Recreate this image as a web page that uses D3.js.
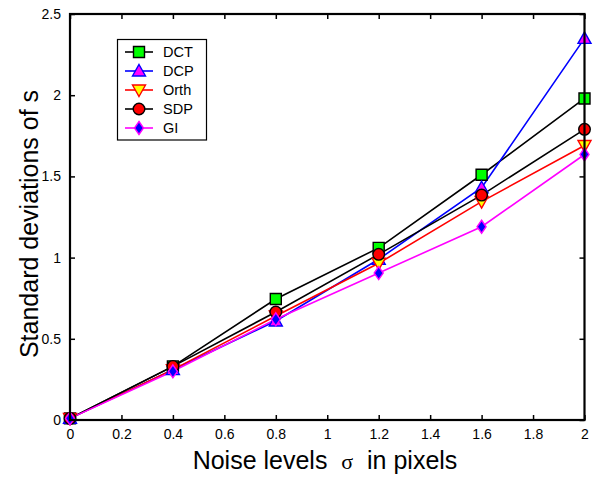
<!DOCTYPE html>
<html>
<head>
<meta charset="utf-8">
<script src="https://cdn.jsdelivr.net/npm/d3@7"></script>
<style>
  body { margin: 0; background: #fff; }
  svg { display: block; font-family: "Liberation Sans", Arial, Helvetica, sans-serif; }
  .pre { white-space: pre; }
</style>
</head>
<body>
<svg id="chart" width="597" height="480"></svg>
<script>
// Noise levels (sigma, pixels)
const noise = [0, 0.4, 0.8, 1.2, 1.6, 2.0];

// Standard deviation of s for each method
const dct  = [0.01, 0.33, 0.745, 1.06, 1.51, 1.98];
const dcp  = [0.01, 0.31, 0.61, 0.99, 1.43, 2.35];
const orth = [0.01, 0.31, 0.64, 0.965, 1.345, 1.69];
const sdp  = [0.01, 0.33, 0.665, 1.02, 1.385, 1.79];
const gi   = [0.01, 0.30, 0.62, 0.905, 1.19, 1.635];

const xTicks = [0, 0.2, 0.4, 0.6, 0.8, 1, 1.2, 1.4, 1.6, 1.8, 2];
const yTicks = [0, 0.5, 1, 1.5, 2, 2.5];

const series = [
  { name: "DCT",  values: dct,  line: "#000000", fill: "#00ff00", stroke: "#000000", shape: "square" },
  { name: "DCP",  values: dcp,  line: "#0000ff", fill: "#ff00ff", stroke: "#0000ff", shape: "triUp" },
  { name: "Orth", values: orth, line: "#ff0000", fill: "#ffff00", stroke: "#ff0000", shape: "triDown" },
  { name: "SDP",  values: sdp,  line: "#000000", fill: "#ff0000", stroke: "#000000", shape: "circle" },
  { name: "GI",   values: gi,   line: "#ff00ff", fill: "#0000ff", stroke: "#ff00ff", shape: "diamond" }
];

const svg = d3.select("#chart");
const mLeft = 70, mRight = 584.5, mTop = 14, mBottom = 420;

const x = d3.scaleLinear().domain([0, 2]).range([mLeft, mRight]);
const y = d3.scaleLinear().domain([0, 2.5]).range([mBottom, mTop]);

// Marker path generators centred on the origin
function markerPath(shape) {
  switch (shape) {
    case "square":  return "M-5.5,-5.5H5.5V5.5H-5.5Z";
    case "triUp":   return "M0,-6.5L6.5,5L-6.5,5Z";
    case "triDown": return "M0,6.5L6.5,-5L-6.5,-5Z";
    case "circle":  return d3.symbol(d3.symbolCircle, 105)();
    case "diamond": return "M0,-6.5L4.5,0L0,6.5L-4.5,0Z";
  }
}

// Axes: ticks drawn inward on all four sides
const tickLen = 5;
const axisB = d3.axisBottom(x).tickValues(xTicks).tickSizeInner(-tickLen).tickSizeOuter(0)
  .tickPadding(9).tickFormat(d3.format("~g"));
const axisT = d3.axisTop(x).tickValues(xTicks).tickSizeInner(-tickLen).tickSizeOuter(0).tickFormat("");
const axisL = d3.axisLeft(y).tickValues(yTicks).tickSizeInner(-tickLen).tickSizeOuter(0)
  .tickPadding(9).tickFormat(d3.format("~g"));
const axisR = d3.axisRight(y).tickValues(yTicks).tickSizeInner(-tickLen).tickSizeOuter(0).tickFormat("");

function styleAxis(g) {
  g.select(".domain").remove();
  g.selectAll(".tick line").attr("stroke", "#000").attr("stroke-width", 1.5);
  g.selectAll(".tick text").attr("fill", "#000").attr("font-size", 14)
    .attr("font-family", "'Liberation Sans', Arial, sans-serif");
}

svg.append("g").attr("transform", `translate(0,${mBottom})`).call(axisB).call(styleAxis);
svg.append("g").attr("transform", `translate(0,${mTop})`).call(axisT).call(styleAxis);
svg.append("g").attr("transform", `translate(${mLeft},0)`).call(axisL).call(styleAxis);
svg.append("g").attr("transform", `translate(${mRight},0)`).call(axisR).call(styleAxis);

// Data lines
const line = d3.line().x((d, i) => x(noise[i])).y(d => y(d));
const plot = svg.append("g");
series.forEach(s => {
  plot.append("path")
    .attr("d", line(s.values))
    .attr("fill", "none")
    .attr("stroke", s.line)
    .attr("stroke-width", 1.6);
});
series.forEach(s => {
  plot.selectAll(null)
    .data(s.values)
    .join("path")
    .attr("d", markerPath(s.shape))
    .attr("transform", (d, i) => `translate(${x(noise[i])},${y(d)})`)
    .attr("fill", s.fill)
    .attr("stroke", s.stroke)
    .attr("stroke-width", 1.4);
});

// Plot frame
svg.append("rect")
  .attr("x", mLeft).attr("y", mTop)
  .attr("width", mRight - mLeft).attr("height", mBottom - mTop)
  .attr("fill", "none").attr("stroke", "#000").attr("stroke-width", 2.2);

// Legend
const lg = svg.append("g");
lg.append("rect")
  .attr("x", 117.5).attr("y", 39.5).attr("width", 89).attr("height", 100.5)
  .attr("fill", "#fff").attr("stroke", "#000").attr("stroke-width", 1.2);
const rowY = d3.scalePoint().domain(series.map(s => s.name)).range([52, 128]);
series.forEach(s => {
  const yy = rowY(s.name);
  lg.append("line").attr("x1", 125).attr("x2", 153).attr("y1", yy).attr("y2", yy)
    .attr("stroke", s.line).attr("stroke-width", 1.6);
  lg.append("path").attr("d", markerPath(s.shape))
    .attr("transform", `translate(139,${yy})`)
    .attr("fill", s.fill).attr("stroke", s.stroke).attr("stroke-width", 1.4);
  lg.append("text").attr("x", 163).attr("y", yy).attr("dy", "0.36em")
    .attr("font-size", 14.5).attr("fill", "#000").text(s.name);
});

// Axis titles
const xt = svg.append("text")
  .attr("class", "pre")
  .attr("x", 325).attr("y", 469)
  .attr("text-anchor", "middle").attr("font-size", 25).attr("fill", "#000");
xt.append("tspan").text("Noise levels  ");
xt.append("tspan").attr("font-family", "'Liberation Serif', 'DejaVu Serif', serif")
  .attr("font-size", 22).text("σ");
xt.append("tspan").text("  in pixels");

svg.append("text")
  .attr("transform", "translate(38,224) rotate(-90)")
  .attr("text-anchor", "middle").attr("font-size", 25).attr("fill", "#000")
  .text("Standard deviations of s");
</script>
</body>
</html>
